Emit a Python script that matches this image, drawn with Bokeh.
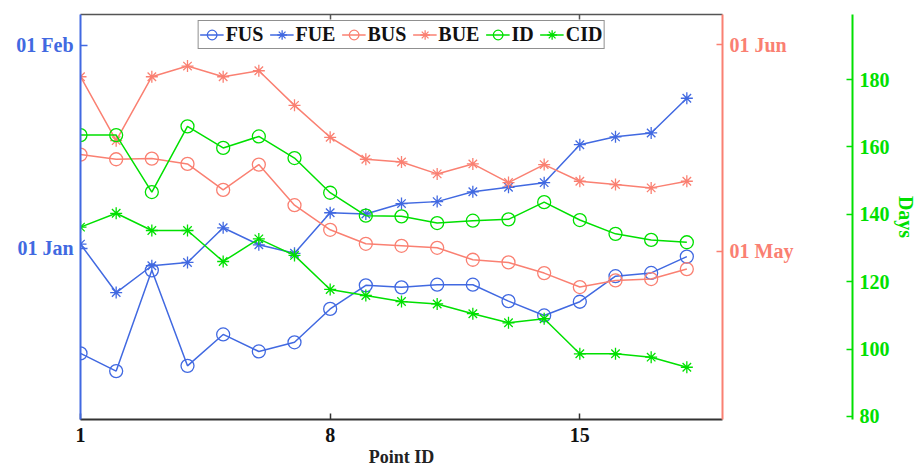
from bokeh.plotting import figure
from bokeh.models import Range1d, LinearAxis, FixedTicker, Legend, LegendItem
from bokeh.embed import file_html
from bokeh.resources import INLINE

# ---- data -------------------------------------------------------------
point_id = list(range(1, 19))

# onset / end dates plotted on the left axis, in days after 01 Jan (negative = December)
fus = [-16.1, -18.8, -3.4, -18.0, -13.2, -15.8, -14.4, -9.3, -5.7,
       -6.0, -5.6, -5.6, -8.1, -10.3, -8.2, -4.3, -3.8, -1.3]
fue = [0.6, -6.8, -2.7, -2.2, 3.1, 0.5, -0.8, 5.4, 5.2,
       6.8, 7.1, 8.6, 9.3, 10.0, 15.8, 17.0, 17.6, 22.9]

# onset / end dates plotted on the inner right axis, in days after 01 May
bus = [14.5, 13.8, 13.9, 13.1, 9.2, 13.0, 6.9, 3.2, 1.1,
       0.8, 0.5, -1.3, -1.7, -3.3, -5.4, -4.4, -4.2, -2.7]
bue = [26.2, 16.6, 26.2, 27.8, 26.2, 27.1, 21.9, 17.1, 13.8,
       13.4, 11.6, 13.1, 10.3, 13.0, 10.5, 10.0, 9.5, 10.5]

# durations plotted on the outer right axis, in days
id_days = [163.5, 163.5, 146.6, 166.1, 159.7, 163.1, 156.7, 146.4, 139.6,
           139.4, 137.4, 138.1, 138.5, 143.6, 138.3, 134.2, 132.4, 131.7]
cid_days = [136.2, 140.3, 135.2, 135.2, 126.0, 132.7, 127.8, 117.7, 115.9,
            114.1, 113.4, 110.5, 107.8, 109.0, 98.6, 98.6, 97.6, 94.6]

x_ticks = [1, 8, 15]
left_ticks = [0, 31]
left_labels = ["01 Jan", "01 Feb"]
right_ticks = [0, 31]
right_labels = ["01 May", "01 Jun"]
day_ticks = [80, 100, 120, 140, 160, 180]

# ---- style ------------------------------------------------------------
BLUE = "#4169E1"
SALMON = "#FA8072"
GREEN = "#00E000"
FONT = "Liberation Serif"

p = figure(width=919, height=469, output_backend="svg", toolbar_location=None,
           x_range=Range1d(1, 19), y_range=Range1d(-26.2, 35.7),
           min_border_left=80, min_border_right=197,
           min_border_top=14, min_border_bottom=50)
p.outline_line_color = None
p.xgrid.visible = False
p.ygrid.visible = False
p.background_fill_color = "white"

p.extra_y_ranges = {"bu": Range1d(-25.3, 35.55), "days": Range1d(79.1, 199.3)}


def style_axis(ax, color, tick_in=6):
    ax.axis_line_color = color
    ax.axis_line_width = 2
    ax.major_tick_line_color = color
    ax.major_tick_line_width = 1.5
    ax.major_tick_in = tick_in
    ax.major_tick_out = 0
    ax.minor_tick_line_color = None
    ax.major_label_text_color = color
    ax.major_label_text_font = FONT
    ax.major_label_text_font_style = "bold"
    ax.major_label_text_font_size = "20px"
    ax.major_label_standoff = 7


# bottom axis
xa = p.xaxis[0]
style_axis(xa, "#333333")
xa.ticker = FixedTicker(ticks=x_ticks)
xa.major_label_text_color = "#111111"
xa.major_label_standoff = 8
xa.axis_label = "Point ID"
xa.axis_label_text_font = FONT
xa.axis_label_text_font_style = "bold"
xa.axis_label_text_font_size = "18px"
xa.axis_label_text_color = "#222222"
xa.axis_label_standoff = 2

# top frame line with inward ticks
top = LinearAxis(ticker=FixedTicker(ticks=x_ticks[1:]),
                 major_label_overrides={t: "" for t in x_ticks[1:]})
style_axis(top, "#555555", tick_in=5)
top.axis_line_width = 1.5
top.major_label_text_font_size = "1px"
top.major_label_standoff = 0
p.add_layout(top, "above")

# left date axis
ya = p.yaxis[0]
style_axis(ya, BLUE, tick_in=7)
ya.ticker = FixedTicker(ticks=left_ticks)
ya.major_label_overrides = dict(zip(left_ticks, left_labels))

# inner right date axis; the blank label reserves room before the outer axis
ra = LinearAxis(y_range_name="bu", ticker=FixedTicker(ticks=right_ticks),
                major_label_overrides=dict(zip(right_ticks, right_labels)))
style_axis(ra, SALMON)
ra.axis_label = " "
ra.axis_label_text_font_size = "10px"
ra.axis_label_standoff = 42
p.add_layout(ra, "right")

# outer right duration axis
ga = LinearAxis(y_range_name="days", ticker=FixedTicker(ticks=day_ticks))
style_axis(ga, GREEN)
ga.axis_label = "Days"
ga.axis_label_text_font = FONT
ga.axis_label_text_font_style = "bold"
ga.axis_label_text_font_size = "20px"
ga.axis_label_text_color = GREEN
ga.axis_label_standoff = 2
p.add_layout(ga, "right")

# ---- series -----------------------------------------------------------
series = [
    ("FUS", fus, BLUE, "circle", "default"),
    ("FUE", fue, BLUE, "asterisk", "default"),
    ("BUS", bus, SALMON, "circle", "bu"),
    ("BUE", bue, SALMON, "asterisk", "bu"),
    ("ID", id_days, GREEN, "circle", "days"),
    ("CID", cid_days, GREEN, "asterisk", "days"),
]

items = []
for name, vals, color, marker, rng in series:
    ln = p.line(point_id, vals, line_color=color, line_width=1.5, y_range_name=rng)
    size = 13 if marker == "circle" else 12
    sc = p.scatter(point_id, vals, marker=marker, size=size, line_color=color,
                   fill_color=None, line_width=1.3, y_range_name=rng)
    items.append(LegendItem(label=name, renderers=[ln, sc]))

legend = Legend(items=items, location="top_center", orientation="horizontal")
legend.label_text_font = FONT
legend.label_text_font_style = "bold"
legend.label_text_font_size = "20px"
legend.label_text_color = "#111111"
legend.label_standoff = 2
legend.label_height = 20
legend.glyph_width = 24
legend.glyph_height = 25
legend.spacing = 6
legend.padding = 1
legend.margin = 6
legend.border_line_color = "#222222"
legend.border_line_width = 1.2
legend.background_fill_color = "white"
legend.background_fill_alpha = 1
p.add_layout(legend, "center")

open("out.html", "w").write(file_html(p, INLINE))
